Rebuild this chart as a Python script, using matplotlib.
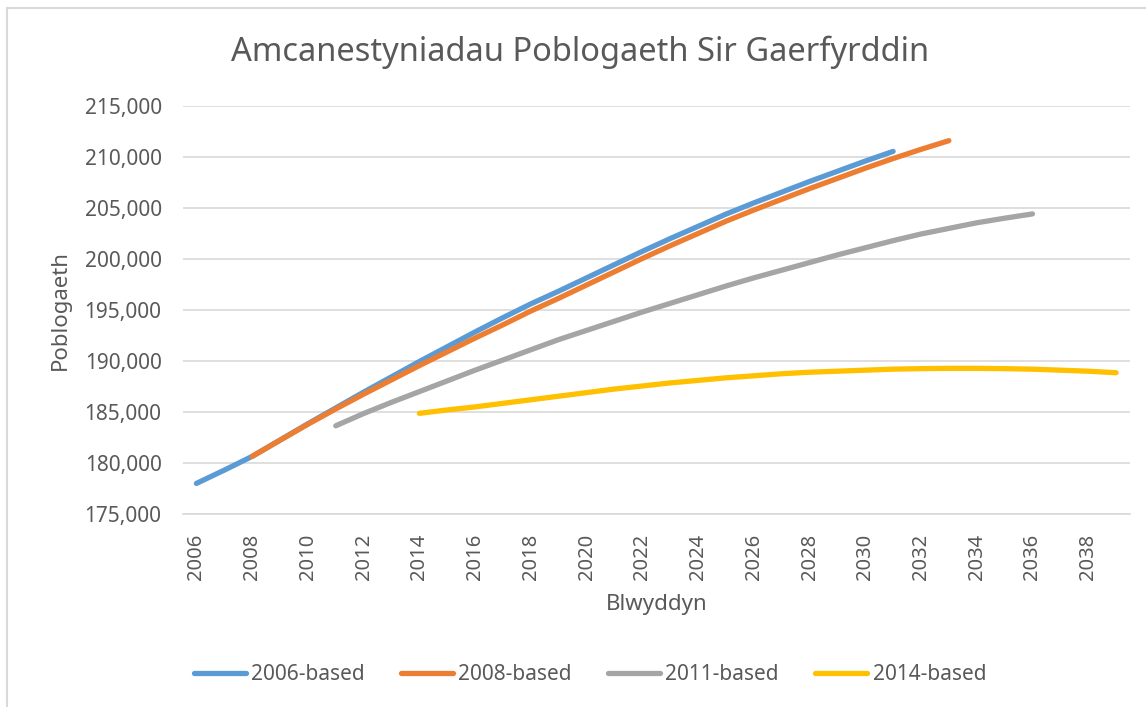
import numpy as np
import matplotlib.pyplot as plt
from matplotlib.lines import Line2D

plt.rcParams['font.family'] = ['Noto Sans', 'DejaVu Sans']

# Population projections, Carmarthenshire
years_2006 = list(range(2006, 2032))
pop_2006 = [178000, 179300, 180650, 182250, 183850, 185400, 186950, 188450, 189950, 191400,
            192850, 194250, 195600, 196850, 198150, 199450, 200750, 202000, 203200, 204400,
            205500, 206550, 207600, 208600, 209600, 210550]

years_2008 = list(range(2008, 2034))
pop_2008 = [180650, 182230, 183800, 185300, 186750, 188150, 189550, 190900, 192250, 193550,
            194900, 196150, 197450, 198750, 200050, 201300, 202500, 203700, 204800, 205850,
            206900, 207900, 208900, 209850, 210750, 211600]

years_2011 = list(range(2011, 2037))
pop_2011 = [183650, 184850, 185950, 187000, 188050, 189100, 190100, 191100, 192100, 193000,
            193900, 194800, 195650, 196500, 197350, 198150, 198900, 199650, 200400, 201100,
            201800, 202450, 203000, 203550, 204000, 204420]

years_2014 = list(range(2014, 2040))
pop_2014 = [184870, 185200, 185500, 185850, 186200, 186550, 186900, 187250, 187550, 187850,
            188100, 188350, 188550, 188750, 188900, 189000, 189100, 189200, 189250, 189280,
            189280, 189250, 189200, 189100, 189000, 188850]

series_names = ['2006-based', '2008-based', '2011-based', '2014-based']
colors = ['#5B9BD5', '#ED7D31', '#A5A5A5', '#FFC000']

text_col = '#595959'
grid_col = '#D9D9D9'

fig = plt.figure(figsize=(11.46, 7.07), dpi=100)
W, H = 1146, 707
ax = fig.add_axes([182.5 / W, (H - 514) / H, (1130 - 182.5) / W, (514 - 106) / H])

all_series = [(years_2006, pop_2006), (years_2008, pop_2008),
              (years_2011, pop_2011), (years_2014, pop_2014)]
for (xs, ys), name, c in zip(all_series, series_names, colors):
    ax.plot(xs, ys, color=c, lw=3.8, label=name, solid_capstyle='round',
            solid_joinstyle='round', zorder=3)

ax.set_xlim(2005.5, 2039.5)
ax.set_ylim(175000, 215000)
ax.set_xticks(range(2006, 2039, 2))
ax.set_xticklabels([str(y) for y in range(2006, 2039, 2)], rotation=90)
ax.set_yticks(range(175000, 215001, 5000))
ax.set_yticklabels([f'{v:,}' for v in range(175000, 215001, 5000)])
ax.tick_params(axis='both', length=0, colors=text_col, labelsize=14.5)
ax.tick_params(axis='y', labelsize=15, pad=15)
ax.tick_params(axis='x', pad=14)
ax.grid(axis='y', color=grid_col, lw=1.2)
ax.set_axisbelow(True)
for s in ['top', 'right', 'left']:
    ax.spines[s].set_visible(False)
ax.spines['bottom'].set_color(grid_col)
ax.spines['bottom'].set_linewidth(1.2)

ax.set_ylabel('Poblogaeth', fontsize=16, color=text_col, labelpad=10)
ax.set_xlabel('Blwyddyn', fontsize=16, color=text_col, labelpad=10)

fig.text(580 / W, 1 - 52 / H, 'Amcanestyniadau Poblogaeth Sir Gaerfyrddin',
         ha='center', va='center', fontsize=23.5, color=text_col)

fs = 15
leg = fig.legend(loc='center', bbox_to_anchor=(590 / W, 1 - 675 / H), ncol=4, frameon=False,
                 fontsize=fs, handlelength=52 / (fs * 100 / 72), handletextpad=0.25,
                 columnspacing=1.75, labelcolor=text_col)

# outer chart border
fig.add_artist(Line2D([7 / W, 7 / W], [0, 1 - 7.5 / H], color=grid_col, lw=1.5))
fig.add_artist(Line2D([7 / W, 1], [1 - 7.5 / H, 1 - 7.5 / H], color=grid_col, lw=1.5))

fig.savefig('out.png', dpi=100)
